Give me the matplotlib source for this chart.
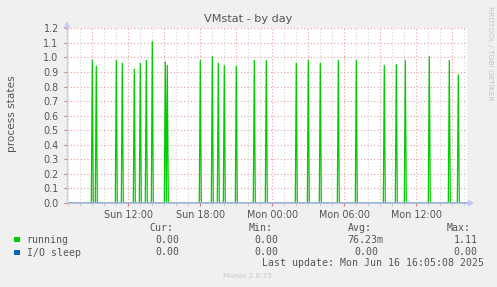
import numpy as np
import matplotlib
matplotlib.use("Agg")
import matplotlib.pyplot as plt
from matplotlib.patches import Polygon

# ---------------- data ----------------
title = "VMstat - by day"
y_label = "process states"
series_names = ["running", "I/O sleep"]
series_colors = ["#00cc00", "#0066b3"]

# spikes of the "running" series (day, time) and peak value
running_spike_times = ["Sun 09:00", "Sun 09:20", "Sun 11:00", "Sun 11:30", "Sun 12:30",
                       "Sun 13:00", "Sun 13:30", "Sun 14:00", "Sun 15:05", "Sun 15:15",
                       "Sun 18:00", "Sun 19:00", "Sun 19:30", "Sun 20:00", "Sun 21:00",
                       "Sun 22:30", "Sun 23:30", "Mon 02:00", "Mon 03:00", "Mon 04:00",
                       "Mon 05:30", "Mon 07:00", "Mon 09:20", "Mon 10:20", "Mon 11:05",
                       "Mon 13:05", "Mon 14:45", "Mon 15:30"]
running_spike_values = [0.98, 0.94, 0.98, 0.96, 0.92,
                        0.96, 0.98, 1.11, 0.97, 0.945,
                        0.98, 1.005, 0.96, 0.945, 0.94,
                        0.98, 0.98, 0.96, 0.98, 0.96,
                        0.98, 0.98, 0.945, 0.95, 0.98,
                        1.005, 0.98, 0.88]
io_sleep_value = 0.0

window_start = "Sun 06:50"
window_end = "Mon 16:10"
step_minutes = 5

x_tick_labels = ["Sun 12:00", "Sun 18:00", "Mon 00:00", "Mon 06:00", "Mon 12:00"]
y_ticks = [0.0, 0.1, 0.2, 0.3, 0.4, 0.5, 0.6, 0.7, 0.8, 0.9, 1.0, 1.1, 1.2]

legend_headers = ["Cur:", "Min:", "Avg:", "Max:"]
legend_running = ["0.00", "0.00", "76.23m", "1.11"]
legend_io = ["0.00", "0.00", "0.00", "0.00"]
last_update = "Last update: Mon Jun 16 16:05:08 2025"
munin_version = "Munin 2.0.75"
side_text = "RRDTOOL / TOBI OETIKER"


def to_hours(s):
    day, hm = s.split()
    h, m = hm.split(":")
    return (0 if day == "Sun" else 24) + int(h) + int(m) / 60.0


t0 = to_hours(window_start)
t1 = to_hours(window_end)
n = int(round((t1 - t0) * 60 / step_minutes)) + 1
t = t0 + np.arange(n) * step_minutes / 60.0
running = np.zeros(n)
for s, v in zip(running_spike_times, running_spike_values):
    idx = int(round((to_hours(s) - t0) * 60 / step_minutes))
    running[idx] = v
io_sleep = np.full(n, io_sleep_value)

# ---------------- figure ----------------
W, H = 497, 287
fig = plt.figure(figsize=(W / 100, H / 100), dpi=100, facecolor="#f0f0f0")


def fx(px):
    return px / W


def fy(py):
    return 1 - py / H


L, R, T, B = 67, 467, 28.3, 203
ax = fig.add_axes([fx(L), fy(B), (R - L) / W, (B - T) / H])
ax.set_facecolor("white")
xmin, xmax = 6.892, 40.225
ax.set_xlim(xmin, xmax)
ax.set_ylim(0, 1.2)
for sp in ax.spines.values():
    sp.set_visible(False)

red = "#e8a0a0"
gray = "#d4d4d4"
dot = (0, (1, 2))
# minor vertical grid every hour, major every 3 hours
for hh in range(7, 41):
    if hh % 3 == 0:
        ax.axvline(hh, color=red, lw=0.8, ls=dot, zorder=1)
    else:
        ax.axvline(hh, color=gray, lw=0.8, ls=dot, zorder=1)
for yv in y_ticks[1:]:
    ax.axhline(yv, color=red, lw=0.8, ls=dot, zorder=1)

ax.plot(t, io_sleep, color=series_colors[1], lw=0.9, zorder=2)
ax.plot(t, running, color=series_colors[0], lw=0.9, zorder=3)

# axis lines drawn over the data (as rrdtool does)
axis_col = "#a8b0e6"
ax.plot([xmin, xmax + 0.25], [0, 0], color=axis_col, lw=1.1, zorder=6,
        clip_on=False, solid_capstyle="butt")
ax.plot([xmin, xmin], [0, 1.23], color="#c8cdf0", lw=1.0, zorder=6,
        clip_on=False, solid_capstyle="butt")

label_pos = [to_hours(s) for s in x_tick_labels]
ax.set_xticks(label_pos)
ax.set_xticklabels(x_tick_labels)
ax.set_xticks([h for h in range(7, 41)], minor=True)
ax.tick_params(axis="x", which="major", length=2, color="#e07070", labelsize=6.9,
               labelcolor="#555555", pad=3, direction="out")
ax.tick_params(axis="x", which="minor", length=2, color="#c8c8c8", direction="out")
ax.set_yticks(y_ticks)
ax.set_yticklabels([f"{v:.1f}" for v in y_ticks])
ax.tick_params(axis="y", length=2, color="#e07070", labelsize=6.9,
               labelcolor="#555555", pad=4, direction="out")

# arrows
fig.add_artist(Polygon([[fx(R + 1), fy(B - 3.5)], [fx(R + 1), fy(B + 3.5)], [fx(R + 7), fy(B)]],
                       closed=True, color="#c0c6f4", lw=0, zorder=7))
fig.add_artist(Polygon([[fx(L - 3.5), fy(28)], [fx(L + 3.5), fy(28)], [fx(L), fy(21)]],
                       closed=True, color="#c8ccf4", lw=0, zorder=7))

# texts
fig.text(fx(248), fy(19), title, ha="center", va="center", fontsize=8.1, color="#555555")
fig.text(fx(12), fy(114), y_label, ha="center", va="center", rotation=90,
         fontsize=7.6, color="#555555")
fig.text(fx(490), fy(53), side_text, ha="center", va="center", rotation=-90,
         fontsize=5.3, color="#c4c4c4")

mono = "DejaVu Sans Mono"
fs = 7.1
tc = "#555555"
header_x = [149.3, 248.3, 347.7, 446.7]
run_x = [155.3, 254.7, 347.7, 453.3]
io_x = [155.3, 254.7, 354.0, 453.3]
for hx, htxt in zip(header_x, legend_headers):
    fig.text(fx(hx), fy(227.7), htxt, ha="left", va="center", family=mono, fontsize=fs, color=tc)
for rx, rtxt in zip(run_x, legend_running):
    fig.text(fx(rx), fy(239.7), rtxt, ha="left", va="center", family=mono, fontsize=fs, color=tc)
for ix, itxt in zip(io_x, legend_io):
    fig.text(fx(ix), fy(251.7), itxt, ha="left", va="center", family=mono, fontsize=fs, color=tc)
for yy, name, col in zip([239.2, 252.2], series_names, series_colors):
    fig.add_artist(Polygon([[fx(14.3), fy(yy - 2.7)], [fx(19.8), fy(yy - 2.7)],
                            [fx(19.8), fy(yy + 2.7)], [fx(14.3), fy(yy + 2.7)]],
                           closed=True, color=col, lw=0))
    fig.text(fx(26.7), fy(yy + 0.5), name, ha="left", va="center", family=mono, fontsize=fs, color=tc)
fig.text(fx(261.7), fy(263.3), last_update, ha="left", va="center", family=mono, fontsize=fs, color=tc)
fig.text(fx(247.5), fy(276), munin_version, ha="center", va="center", fontsize=5.4, color="#c8c8c8")

fig.savefig("out.png", dpi=100, facecolor=fig.get_facecolor())
